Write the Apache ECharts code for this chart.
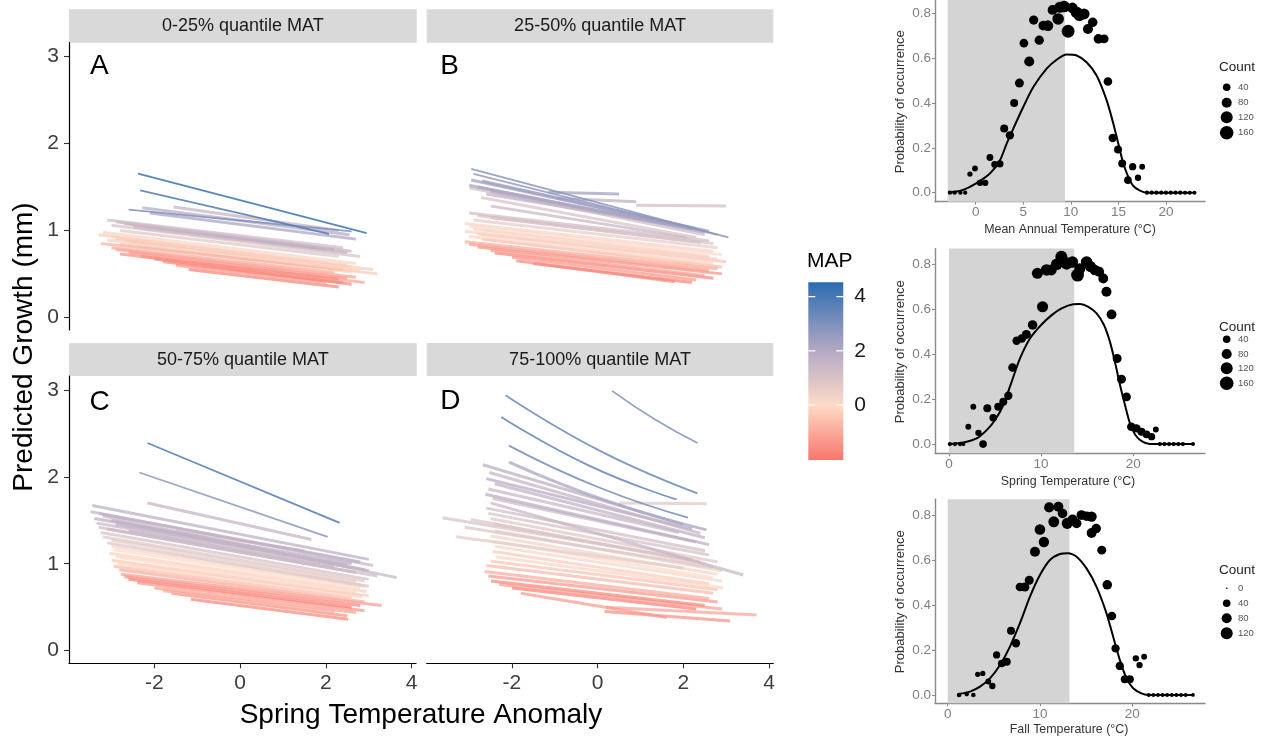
<!DOCTYPE html>
<html><head><meta charset="utf-8">
<script src="https://cdn.jsdelivr.net/npm/echarts@6/dist/echarts.min.js"></script>
<style>html,body{margin:0;padding:0;background:#fff}#c{width:1267px;height:737px}</style>
</head><body><div id="c"></div>
<script>
const FONT = '"Liberation Sans", Arial, Helvetica, sans-serif';
const facetTitles = ['0-25% quantile MAT', '25-50% quantile MAT', '50-75% quantile MAT', '75-100% quantile MAT'];
const panelLetters = ['A', 'B', 'C', 'D', 'E', 'F', 'G'];
const growthTicks = [0, 1, 2, 3];
const anomalyTicks = [-2, 0, 2, 4];
const mapTicks = [0, 2, 4];
const probTicks = [0, 0.2, 0.4, 0.6, 0.8];
const matTicks = [0, 5, 10, 15, 20];
const seasonTicks = [0, 10, 20];
const countBreaksEF = [40, 80, 120, 160];
const countBreaksG = [0, 40, 80, 120];
const smallTitles = ['Mean Annual Temperature (°C)', 'Spring Temperature (°C)', 'Fall Temperature (°C)'];

// lines: [x0, x1, y0, y1, MAP, (xMid, yMid)]
const linesA = [
  [-1.20, 2.30, 0.55, 0.35, -1.8], [-1.50, 2.00, 0.60, 0.40, -1.3], [-1.80, 2.40, 0.64, 0.40, -1.5],
  [-2.00, 2.60, 0.67, 0.38, -1.7], [-2.30, 2.90, 0.70, 0.40, -1.1], [-2.80, 2.30, 0.73, 0.44, -1.6],
  [-2.60, 2.50, 0.75, 0.45, -1.4], [-2.90, 2.70, 0.78, 0.46, -1.2], [-3.00, 2.20, 0.80, 0.52, -1.0],
  [-2.40, 2.60, 0.82, 0.52, 0.1], [-2.80, 3.20, 0.84, 0.50, -0.4], [-3.25, 2.40, 0.85, 0.55, -0.8],
  [-2.60, 2.80, 0.87, 0.54, -0.2], [-3.10, 3.10, 0.89, 0.55, 0.4], [-2.90, 2.60, 0.91, 0.58, -0.6],
  [-3.00, 2.90, 0.93, 0.56, 0.0], [-3.30, 2.50, 0.95, 0.60, -0.3], [-3.20, 2.70, 0.98, 0.62, 0.2],
  [-2.80, 2.30, 1.00, 0.70, 0.8], [-2.20, 2.00, 1.02, 0.78, 1.4], [-2.50, 2.50, 1.04, 0.74, 1.8],
  [-3.00, 2.80, 1.06, 0.70, 1.0], [-2.70, 2.20, 1.08, 0.78, 1.9], [-2.90, 2.60, 1.10, 0.76, 1.6],
  [-3.10, 2.40, 1.12, 0.80, 1.2], [-2.10, 2.70, 1.20, 0.90, 2.2], [-1.55, 2.30, 1.27, 1.00, 1.6],
  [-2.28, 2.55, 1.26, 0.95, 2.0], [-2.60, 2.60, 1.24, 0.99, 3.0], [-2.33, 2.07, 1.46, 0.96, 3.9],
  [-2.38, 2.95, 1.655, 0.97, 4.3]
];
const linesB = [
  [-1.50, 2.20, 0.62, 0.40, -1.8], [-1.90, 1.80, 0.65, 0.41, -1.6], [-2.00, 2.30, 0.69, 0.43, -1.4],
  [-2.40, 2.70, 0.74, 0.45, -1.7], [-2.50, 2.50, 0.77, 0.48, -1.2], [-2.80, 2.90, 0.81, 0.50, -1.5],
  [-3.00, 2.60, 0.84, 0.54, -1.3], [-3.10, 2.80, 0.87, 0.56, -1.0], [-2.70, 2.90, 0.90, 0.58, -0.7],
  [-3.00, 2.70, 0.93, 0.62, -0.2], [-2.80, 3.00, 0.96, 0.64, -0.5], [-3.10, 2.80, 0.99, 0.67, 0.3],
  [-2.90, 2.60, 1.02, 0.70, -0.3], [-3.00, 2.90, 1.05, 0.72, 0.0], [-3.10, 2.70, 1.08, 0.76, 0.2],
  [-2.90, 2.80, 1.12, 0.80, 0.6], [-2.50, 2.40, 1.15, 0.86, 1.4], [-2.80, 2.70, 1.17, 0.85, 0.9],
  [-3.00, 2.60, 1.20, 0.88, 1.2], [0.90, 3.00, 1.29, 1.28, 1.2], [-2.49, 2.10, 1.28, 0.92, 1.5],
  [-2.72, 2.30, 1.38, 0.92, 1.0], [-2.99, 2.50, 1.49, 0.95, 1.3], [-0.95, 0.90, 1.37, 1.33, 1.8],
  [-2.60, 1.80, 1.42, 1.06, 1.7], [-2.50, 2.00, 1.45, 1.05, 1.9], [-2.80, 2.20, 1.50, 1.02, 2.0],
  [-3.00, 2.50, 1.52, 0.98, 2.2], [-2.70, 2.30, 1.57, 1.02, 2.5], [-2.95, 2.60, 1.58, 0.99, 2.4],
  [-1.15, 0.50, 1.44, 1.42, 2.4], [-2.90, 2.80, 1.65, 0.95, 2.6], [-2.95, 3.05, 1.71, 0.92, 2.8]
];
const linesC = [
  [-1.15, 2.52, 0.59, 0.36, -1.7], [-1.60, 2.50, 0.66, 0.40, -1.5], [-1.80, 2.20, 0.69, 0.44, -0.9],
  [-2.00, 2.70, 0.72, 0.44, -1.2], [-2.40, 2.90, 0.78, 0.46, -1.4], [-2.60, 2.60, 0.82, 0.50, -1.8],
  [-2.70, 2.80, 0.85, 0.52, -1.6], [-2.78, 3.30, 0.88, 0.52, -1.3], [-2.82, 2.90, 0.93, 0.56, -1.0],
  [-2.95, 2.60, 0.97, 0.61, -0.6], [-2.85, 2.85, 1.00, 0.62, -0.1], [-3.00, 3.00, 1.04, 0.63, -0.4],
  [-2.90, 2.70, 1.08, 0.67, 0.1], [-3.05, 2.95, 1.12, 0.68, -0.2], [-2.95, 2.80, 1.16, 0.72, 0.0],
  [-3.00, 2.90, 1.20, 0.74, 0.3], [-3.10, 3.00, 1.24, 0.74, 0.9], [-3.00, 2.70, 1.27, 0.79, 0.6],
  [-3.21, 2.90, 1.31, 0.80, 0.8], [-1.50, 1.50, 1.38, 1.15, 1.0], [-3.25, 3.00, 1.36, 0.82, 1.1],
  [-2.60, 2.20, 1.38, 0.96, 1.8], [-3.10, 2.70, 1.40, 0.90, 1.6], [-3.30, 3.20, 1.42, 0.86, 1.3],
  [-2.90, 2.50, 1.45, 0.98, 2.1], [-3.35, 2.90, 1.47, 0.93, 1.4], [-3.00, 3.00, 1.50, 0.92, 1.7],
  [-3.40, 2.60, 1.52, 1.00, 1.9], [-3.20, 3.65, 1.55, 0.84, 1.5], [-3.30, 2.80, 1.58, 1.02, 2.0],
  [-3.49, 3.10, 1.60, 0.98, 1.6], [-3.45, 3.00, 1.67, 1.05, 1.8], [-2.16, 1.66, 1.70, 1.28, 1.6],
  [-2.35, 2.04, 2.05, 1.31, 2.8], [-2.16, 2.32, 2.39, 1.47, 3.9]
];
const linesD = [
  [0.20, 3.71, 0.50, 0.41, -1.1], [0.16, 3.09, 0.45, 0.34, -1.5], [-1.79, 1.61, 0.66, 0.38, -1.3],
  [-2.00, 2.30, 0.72, 0.48, -1.8], [-2.30, 2.90, 0.76, 0.48, -1.2], [-2.49, 2.50, 0.80, 0.52, -1.7],
  [-2.55, 2.80, 0.86, 0.56, -1.4], [-2.64, 2.60, 0.91, 0.60, -1.0], [-2.60, 2.70, 0.98, 0.66, -0.7],
  [-2.50, 2.80, 1.03, 0.70, -0.5], [-2.38, 2.93, 1.08, 0.72, -0.1], [-2.45, 2.60, 1.14, 0.77, -0.3],
  [-2.40, 2.90, 1.20, 0.80, 0.2], [-2.45, 2.70, 1.26, 0.84, 0.0], [-2.50, 2.80, 1.32, 0.88, 0.3],
  [-3.30, 2.00, 1.31, 0.95, 0.7], [-2.40, 2.90, 1.38, 0.92, 0.5], [-3.10, 2.70, 1.42, 0.96, 0.9],
  [-2.45, 2.50, 1.46, 1.00, 0.6], [-2.96, 2.40, 1.51, 1.02, 0.9], [-2.50, 2.80, 1.52, 1.02, 0.8],
  [-3.62, 2.20, 1.53, 1.05, 1.0], [-2.55, 2.60, 1.58, 1.10, 1.1], [0.50, 2.55, 1.70, 1.69, 0.8],
  [-2.60, 2.50, 1.64, 1.15, 1.2], [-2.50, 3.40, 1.70, 0.87, 1.5], [-2.45, 2.30, 1.75, 1.25, 1.4],
  [-2.62, 2.60, 1.80, 1.22, 1.9], [-2.55, 1.90, 1.86, 1.36, 1.5], [-2.40, 2.50, 1.92, 1.30, 1.7],
  [-2.60, 2.20, 1.98, 1.40, 2.0], [-2.53, 2.40, 2.05, 1.35, 1.6], [-2.68, 2.00, 2.14, 1.45, 1.8],
  [-2.07, 2.54, 2.17, 1.39, 2.3, 0.24, 1.72], [-2.07, 2.11, 2.36, 1.53, 3.2, 0.02, 1.88],
  [-2.25, 1.84, 2.69, 1.74, 3.6, -0.20, 2.13], [0.34, 2.33, 2.99, 2.39, 3.0, 1.34, 2.66],
  [-2.15, 2.33, 2.94, 1.81, 3.4, 0.09, 2.29]
];

// occurrence panels: points [temperature, probability, count]
const pointsE = [
  [-2.7, 0, 8], [-2.2, 0, 8], [-1.6, 0, 8], [-1.1, 0, 8], [-0.6, 0.083, 15], [-0.07, 0.108, 20],
  [0.45, 0.044, 25], [1.0, 0.044, 25], [1.5, 0.157, 30], [2.0, 0.126, 30], [2.55, 0.129, 35],
  [3.0, 0.286, 45], [3.6, 0.256, 50], [4.05, 0.40, 45], [4.6, 0.489, 60], [5.07, 0.667, 55],
  [5.63, 0.585, 80], [6.1, 0.77, 65], [6.68, 0.68, 65], [7.1, 0.745, 70], [7.6, 0.745, 90],
  [8.08, 0.815, 75], [8.67, 0.775, 110], [8.85, 0.827, 100], [9.3, 0.83, 110], [9.72, 0.72, 140],
  [10.17, 0.824, 90], [10.6, 0.804, 110], [10.9, 0.79, 100], [11.4, 0.797, 95], [11.8, 0.73, 80],
  [12.3, 0.76, 70], [12.9, 0.686, 70], [13.5, 0.686, 60], [13.9, 0.496, 55], [14.4, 0.244, 50],
  [14.96, 0.193, 45], [15.4, 0.13, 45], [16.0, 0.056, 40], [16.5, 0.116, 35], [17.06, 0.067, 25],
  [17.5, 0.116, 20], [18.0, 0, 8], [18.5, 0, 8], [19.0, 0, 8], [19.5, 0, 8], [20.0, 0, 8],
  [20.5, 0, 8], [21.0, 0, 8], [21.5, 0, 8], [22.0, 0, 7], [22.5, 0, 7], [23.0, 0, 6]
];
const curveE = [
  [-2.87, 0.0], [-1.5, 0.01], [0, 0.041], [1.5, 0.086], [2.56, 0.145], [3.26, 0.219], [3.96, 0.286],
  [5.0, 0.382], [6.06, 0.471], [7.46, 0.553], [8.51, 0.593], [9.56, 0.616], [10.61, 0.612],
  [11.66, 0.582], [12.71, 0.523], [13.77, 0.412], [14.47, 0.308], [14.99, 0.219], [15.52, 0.13],
  [16.04, 0.071], [16.57, 0.03], [17.27, 0.009], [17.96, 0.0], [22.9, 0.0]
];
const shadeE = [-2.94, 9.38];

const pointsF = [
  [0.1, 0, 8], [0.65, 0, 8], [1.2, 0, 8], [1.55, 0, 8], [2.1, 0.077, 20], [2.64, 0.166, 20],
  [3.2, 0.05, 25], [3.7, 0, 40], [4.16, 0.159, 45], [4.8, 0.117, 40], [5.35, 0.166, 45],
  [5.9, 0.188, 45], [6.44, 0.215, 50], [6.9, 0.341, 55], [7.34, 0.46, 50], [7.9, 0.47, 55],
  [8.4, 0.488, 60], [9.08, 0.53, 70], [9.6, 0.76, 100], [10.16, 0.611, 100], [10.6, 0.775, 110],
  [11.1, 0.775, 100], [11.7, 0.8, 110], [12.2, 0.834, 120], [12.77, 0.804, 130], [13.4, 0.81, 110],
  [13.96, 0.752, 140], [14.2, 0.78, 100], [14.94, 0.81, 110], [15.37, 0.79, 100], [15.84, 0.775, 90],
  [16.3, 0.767, 80], [16.75, 0.737, 75], [17.1, 0.678, 80], [17.65, 0.577, 75], [18.26, 0.381, 60],
  [18.73, 0.289, 60], [19.28, 0.21, 55], [19.8, 0.077, 55], [20.36, 0.07, 50], [20.9, 0.055, 45],
  [21.45, 0.043, 40], [22.0, 0.033, 35], [22.46, 0.065, 20], [22.9, 0, 8], [23.4, 0, 8],
  [23.9, 0, 8], [24.4, 0, 8], [24.9, 0, 8], [25.4, 0, 8], [26.5, 0, 6]
];
const curveF = [
  [0, 0.0], [1.56, 0.007], [3.0, 0.025], [4.09, 0.062], [5.0, 0.107], [5.9, 0.174], [6.8, 0.277],
  [7.71, 0.381], [8.79, 0.47], [10.0, 0.53], [11.15, 0.574], [12.23, 0.604], [13.5, 0.622],
  [14.22, 0.623], [15.13, 0.611], [16.03, 0.582], [16.83, 0.53], [17.48, 0.455], [18.02, 0.366],
  [18.57, 0.263], [19.11, 0.174], [19.65, 0.092], [20.2, 0.043], [20.92, 0.013], [21.82, 0.0],
  [26.5, 0.0]
];
const shadeF = [0, 13.6];

const pointsG = [
  [1.23, 0, 10], [2.06, 0.004, 10], [2.78, 0, 10], [3.25, 0.092, 15], [3.8, 0.096, 15],
  [4.4, 0.06, 20], [4.84, 0.04, 25], [5.3, 0.178, 35], [5.85, 0.14, 40], [6.4, 0.148, 45],
  [6.86, 0.286, 45], [7.4, 0.23, 50], [7.83, 0.48, 55], [8.37, 0.48, 60], [8.84, 0.51, 60],
  [9.46, 0.637, 80], [10.0, 0.736, 90], [10.43, 0.68, 85], [11.0, 0.834, 80], [11.5, 0.77, 95],
  [12.0, 0.837, 80], [12.45, 0.807, 70], [12.96, 0.763, 100], [13.54, 0.78, 80], [13.97, 0.763, 75],
  [14.5, 0.8, 75], [15.05, 0.795, 70], [15.6, 0.793, 85], [15.6, 0.72, 75], [16.1, 0.74, 70],
  [16.7, 0.644, 60], [17.3, 0.49, 70], [17.8, 0.351, 55], [18.2, 0.207, 50], [18.66, 0.129, 50],
  [19.2, 0.07, 45], [19.75, 0.07, 45], [20.4, 0.163, 25], [20.8, 0.133, 25], [21.3, 0.17, 20],
  [21.8, 0, 6], [22.3, 0, 6], [22.8, 0, 6], [23.3, 0, 6], [23.8, 0, 6], [24.3, 0, 6],
  [24.8, 0, 6], [25.3, 0, 6], [25.8, 0, 6], [26.6, 0, 5]
];
const curveG = [
  [1.16, 0.004], [2.42, 0.015], [3.5, 0.037], [4.58, 0.074], [5.67, 0.133], [6.75, 0.215],
  [7.83, 0.319], [8.92, 0.437], [10.0, 0.533], [11.08, 0.6], [12.17, 0.627], [13.07, 0.63],
  [13.97, 0.615], [15.05, 0.563], [16.14, 0.481], [17.22, 0.363], [17.94, 0.259], [18.66, 0.156],
  [19.39, 0.074], [20.11, 0.03], [21.0, 0.007], [21.73, 0.0], [26.6, 0.0]
];
const shadeG = [0, 13.2];

// MAP colour scale (value -> colour) and colourbar range
const mapColorStops = [[-2.03, '#F8766D'], [0, '#FDDBC7'], [2, '#B4A9C4'], [4.53, '#2C6BB2']];
const mapRange = [-2.03, 4.53];

function hexRgb(h) { return [1, 3, 5].map(i => parseInt(h.substr(i, 2), 16)); }
function mapColor(v) {
  const s = mapColorStops;
  if (v <= s[0][0]) return s[0][1];
  for (let i = 1; i < s.length; i++) {
    if (v <= s[i][0]) {
      const t = (v - s[i - 1][0]) / (s[i][0] - s[i - 1][0]);
      const a = hexRgb(s[i - 1][1]), b = hexRgb(s[i][1]);
      return 'rgb(' + a.map((c, k) => Math.round(c + (b[k] - c) * t)).join(',') + ')';
    }
  }
  return s[s.length - 1][1];
}
function dotSize(c) { return 1.6 + 0.95 * Math.sqrt(c); }

const bigGrids = [
  { left: 69, top: 42.7, width: 347, height: 287.3 },
  { left: 426.7, top: 42.7, width: 346.6, height: 287.3 },
  { left: 69, top: 376, width: 347, height: 287.3 },
  { left: 426.7, top: 376, width: 346.6, height: 287.3 }
];
const smallGrids = [
  { left: 935, top: -2.4, width: 270, height: 204.1 },
  { left: 935, top: 248.6, width: 270, height: 204.7 },
  { left: 935, top: 499.3, width: 270, height: 204 }
];
const smallX = [[-4.27, 24.1, matTicks], [-1.52, 27.8, seasonTicks], [-1.38, 27.9, seasonTicks]];
const smallY = [[-0.04, 0.87], [-0.041, 0.87], [-0.037, 0.87]];

const grids = [];
const xAxes = [];
const yAxes = [];
const series = [];

bigGrids.forEach((g, i) => {
  grids.push(Object.assign({ containLabel: false, outerBoundsMode: 'none' }, g));
  xAxes.push({
    type: 'value', gridIndex: i, min: -3.99, max: 4.1, show: i >= 2,
    axisLine: { show: true, onZero: false, lineStyle: { color: '#000', width: 1.2 } },
    axisTick: { show: true, length: 5, customValues: anomalyTicks, lineStyle: { color: '#333', width: 1.1 } },
    axisLabel: { customValues: anomalyTicks, fontSize: 21, color: '#3d3d3d', fontFamily: FONT, margin: 9 },
    splitLine: { show: false }
  });
  yAxes.push({
    type: 'value', gridIndex: i, min: -0.146, max: 3.161, show: i % 2 === 0,
    axisLine: { show: true, onZero: false, lineStyle: { color: '#000', width: 1.2 } },
    axisTick: { show: true, length: 5, customValues: growthTicks, lineStyle: { color: '#333', width: 1.1 } },
    axisLabel: { customValues: growthTicks, fontSize: 21, color: '#3d3d3d', fontFamily: FONT, margin: 10 },
    splitLine: { show: false }
  });
});
[linesA, linesB, linesC, linesD].forEach((arr, gi) => {
  arr.forEach(l => {
    const pts = [[l[0], l[2]]];
    if (l.length > 5) pts.push([l[5], l[6]]);
    pts.push([l[1], l[3]]);
    const single = l[4] > 2.5;
    series.push({
      type: 'line', xAxisIndex: gi, yAxisIndex: gi, data: pts, smooth: l.length > 5,
      symbol: 'none', silent: true, animation: false,
      lineStyle: { color: mapColor(l[4]), width: single ? 1.8 : 3, opacity: single ? 0.85 : 0.72, cap: 'butt' }
    });
  });
});

const smallData = [[pointsE, curveE, shadeE], [pointsF, curveF, shadeF], [pointsG, curveG, shadeG]];
smallGrids.forEach((g, k) => {
  const gi = 4 + k;
  grids.push(Object.assign({ containLabel: false, outerBoundsMode: 'none' }, g));
  xAxes.push({
    type: 'value', gridIndex: gi, min: smallX[k][0], max: smallX[k][1],
    axisLine: { show: true, onZero: false, lineStyle: { color: '#8a8a8a', width: 1.4 } },
    axisTick: { show: true, length: 3, customValues: smallX[k][2], lineStyle: { color: '#8a8a8a' } },
    axisLabel: { customValues: smallX[k][2], fontSize: 13.5, color: '#808080', fontFamily: FONT, margin: 4 },
    splitLine: { show: false }
  });
  yAxes.push({
    type: 'value', gridIndex: gi, min: smallY[k][0], max: smallY[k][1],
    axisLine: { show: true, onZero: false, lineStyle: { color: '#8a8a8a', width: 1.4 } },
    axisTick: { show: true, length: 3, customValues: probTicks, lineStyle: { color: '#8a8a8a' } },
    axisLabel: { customValues: probTicks, fontSize: 13.5, color: '#808080', fontFamily: FONT, margin: 4,
      formatter: v => Number(v).toFixed(1) },
    splitLine: { show: false }
  });
  const d = smallData[k];
  series.push({
    type: 'scatter', xAxisIndex: gi, yAxisIndex: gi, data: d[0], silent: true, animation: false,
    symbolSize: v => dotSize(v[2]), itemStyle: { color: '#000', opacity: 1 },
    markArea: { silent: true, itemStyle: { color: '#d4d4d4' }, data: [[{ xAxis: d[2][0] }, { xAxis: d[2][1] }]] },
    z: 3
  });
  series.push({
    type: 'line', xAxisIndex: gi, yAxisIndex: gi, data: d[1], smooth: 0.25, symbol: 'none',
    silent: true, animation: false, lineStyle: { color: '#000', width: 2 }, z: 4
  });
});

// colourbar grid
grids.push({ left: 808.3, top: 282.3, width: 35, height: 177.7, containLabel: false, outerBoundsMode: 'none' });
xAxes.push({ type: 'value', gridIndex: 7, min: 0, max: 1, show: false });
yAxes.push({
  type: 'value', gridIndex: 7, min: mapRange[0], max: mapRange[1], position: 'right',
  axisLine: { show: false }, axisTick: { show: false }, splitLine: { show: false },
  axisLabel: { customValues: mapTicks, fontSize: 21, color: '#1a1a1a', fontFamily: FONT, margin: 11 }
});
series.push({
  type: 'custom', xAxisIndex: 7, yAxisIndex: 7, data: [[0.5, 1]], silent: true, animation: false,
  renderItem: (params, api) => {
    const tl = api.coord([0, mapRange[1]]);
    const br = api.coord([1, mapRange[0]]);
    const w = br[0] - tl[0], h = br[1] - tl[1];
    const stops = mapColorStops.map(s => ({ offset: (mapRange[1] - s[0]) / (mapRange[1] - mapRange[0]), color: s[1] }))
      .sort((a, b) => a.offset - b.offset);
    const children = [{ type: 'rect', shape: { x: tl[0], y: tl[1], width: w, height: h },
      style: { fill: new echarts.graphic.LinearGradient(0, 0, 0, 1, stops) } }];
    mapTicks.forEach(v => {
      const y = api.coord([0, v])[1];
      children.push({ type: 'line', shape: { x1: tl[0], y1: y, x2: tl[0] + w / 5, y2: y }, style: { stroke: '#fff', lineWidth: 1.2 } });
      children.push({ type: 'line', shape: { x1: br[0] - w / 5, y1: y, x2: br[0], y2: y }, style: { stroke: '#fff', lineWidth: 1.2 } });
    });
    return { type: 'group', children };
  }
});

// annotations
const graphic = [];
const stripBoxes = [[69, 9.3, 347.7, 33.4], [426.7, 9.3, 346.6, 33.4], [69, 343.3, 347.7, 32.7], [426.7, 343, 346.6, 33]];
stripBoxes.forEach((b, i) => {
  graphic.push({ type: 'rect', silent: true, shape: { x: b[0], y: b[1], width: b[2], height: b[3] }, style: { fill: '#d9d9d9' } });
  graphic.push({ type: 'text', silent: true, x: b[0] + b[2] / 2, y: b[1] + b[3] / 2 + 0.5,
    style: { text: facetTitles[i], font: '18px ' + FONT, fill: '#1a1a1a', align: 'center', verticalAlign: 'middle' } });
});
const letterPos = [[99.3, 65, 28], [449.7, 65, 28], [99.7, 401.7, 28], [450.3, 400, 28], [968.3, 17.8, 29], [967, 270, 29], [969.7, 522.5, 29]];
letterPos.forEach((p, i) => {
  graphic.push({ type: 'text', silent: true, x: p[0], y: p[1] + 1,
    style: { text: panelLetters[i], font: p[2] + 'px ' + FONT, fill: '#000', align: 'center', verticalAlign: 'middle' } });
});
graphic.push({ type: 'text', silent: true, x: 24, y: 347, rotation: Math.PI / 2,
  style: { text: 'Predicted Growth (mm)', font: '28px ' + FONT, fill: '#000', align: 'center', verticalAlign: 'middle' } });
graphic.push({ type: 'text', silent: true, x: 421, y: 715,
  style: { text: 'Spring Temperature Anomaly', font: '28px ' + FONT, fill: '#000', align: 'center', verticalAlign: 'middle' } });
graphic.push({ type: 'text', silent: true, x: 807, y: 261,
  style: { text: 'MAP', font: '21px ' + FONT, fill: '#000', align: 'left', verticalAlign: 'middle' } });

const smallYTitle = [101.7, 351.7, 601.7];
const smallXTitle = [[1070, 230], [1068, 482], [1069, 730]];
smallYTitle.forEach((y, k) => {
  graphic.push({ type: 'text', silent: true, x: 900, y: y, rotation: Math.PI / 2,
    style: { text: 'Probability of occurrence', font: '13px ' + FONT, fill: '#333', align: 'center', verticalAlign: 'middle' } });
  graphic.push({ type: 'text', silent: true, x: smallXTitle[k][0], y: smallXTitle[k][1],
    style: { text: smallTitles[k], font: '12.4px ' + FONT, fill: '#333', align: 'center', verticalAlign: 'middle' } });
});
const countLegends = [
  [67.5, [87.3, 102.7, 117.3, 132.7], countBreaksEF],
  [327.5, [339.3, 354, 368.3, 383.3], countBreaksEF],
  [570, [588.3, 603.3, 618.3, 633.3], countBreaksG]
];
countLegends.forEach(L => {
  graphic.push({ type: 'text', silent: true, x: 1219, y: L[0],
    style: { text: 'Count', font: '13.5px ' + FONT, fill: '#222', align: 'left', verticalAlign: 'middle' } });
  L[2].forEach((c, j) => {
    graphic.push({ type: 'circle', silent: true, shape: { cx: 1226.7, cy: L[1][j], r: dotSize(c) / 2 }, style: { fill: '#000' } });
    graphic.push({ type: 'text', silent: true, x: 1238, y: L[1][j],
      style: { text: String(c), font: '9.5px ' + FONT, fill: '#555', align: 'left', verticalAlign: 'middle' } });
  });
});

const chart = echarts.init(document.getElementById('c'), null, { renderer: 'canvas' });
chart.setOption({
  animation: false,
  backgroundColor: '#fff',
  grid: grids, xAxis: xAxes, yAxis: yAxes, series: series, graphic: graphic
});
</script></body></html>
